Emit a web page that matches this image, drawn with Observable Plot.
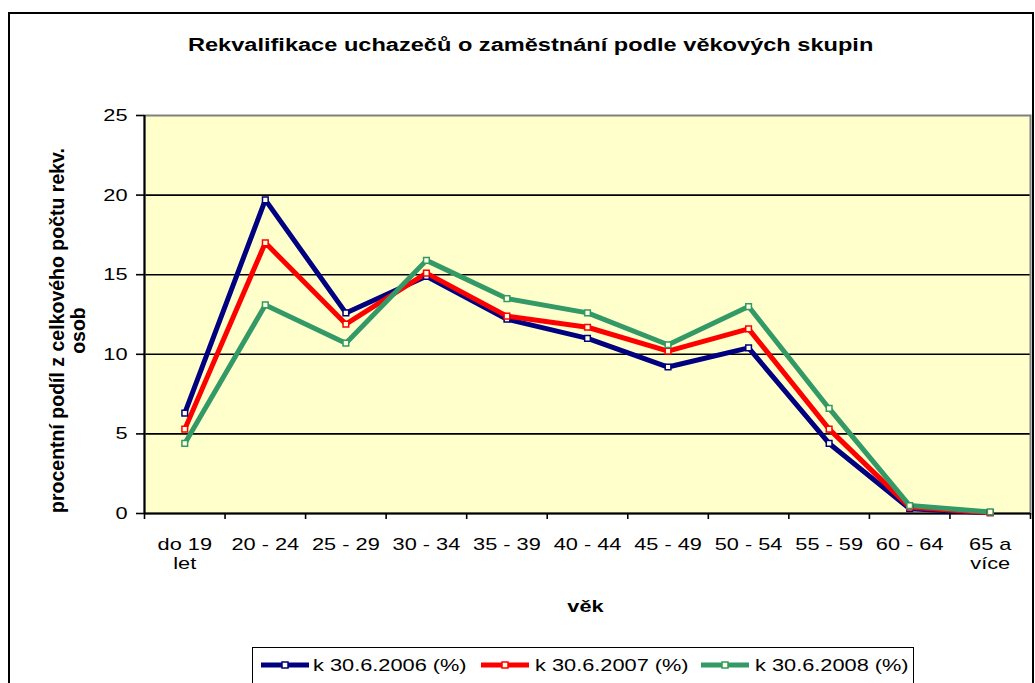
<!DOCTYPE html>
<html>
<head>
<meta charset="utf-8">
<script src="https://cdn.jsdelivr.net/npm/d3@7"></script>
<script src="https://cdn.jsdelivr.net/npm/@observablehq/plot@0.6"></script>
<style>
  html, body { margin: 0; padding: 0; background: #fff; }
  #root { position: relative; width: 1035px; height: 683px; overflow: hidden; background: #fff;
          font-family: "Liberation Sans", Arial, sans-serif; color: #000; }
  #frame { position: absolute; left: 8px; top: 12px; width: 1026px; height: 700px; border: 2px solid #000; box-sizing: border-box; }
  #title { position: absolute; left: 0; top: 35px; width: 1062px; text-align: center; font-weight: bold;
           font-size: 18px; line-height: 20px; white-space: nowrap; }
  #title span { display: inline-block; transform: scaleX(1.31); transform-origin: center; }
  #chart { position: absolute; left: 0; top: 0; }
  #legend { position: absolute; left: 252px; top: 647px; width: 662px; height: 50px; border: 1.5px solid #000;
            box-sizing: border-box; background: #fff; }
  .item { position: absolute; top: 5px; height: 24px; }
  .item svg { position: absolute; left: 0; top: 0; }
  .item .lbl { position: absolute; top: 3px; font-size: 17px; line-height: 20px; white-space: nowrap;
               transform: scaleX(1.28); transform-origin: left center; }
</style>
</head>
<body>
<div id="root">
  <div id="frame"></div>
  <div id="chart"></div>
  <div id="title"><span>Rekvalifikace uchazečů o zaměstnání podle věkových skupin</span></div>
  <div id="legend"></div>
</div>
<script>
// ---- data ----
const categories = ["do 19\nlet", "20 - 24", "25 - 29", "30 - 34", "35 - 39", "40 - 44",
                    "45 - 49", "50 - 54", "55 - 59", "60 - 64", "65 a\nvíce"];
const seriesNames = ["k 30.6.2006 (%)", "k 30.6.2007 (%)", "k 30.6.2008 (%)"];
const seriesColors = ["#000080", "#FF0000", "#339966"];
const v2006 = [6.3, 19.7, 12.6, 14.9, 12.2, 11.0, 9.2, 10.4, 4.4, 0.3, 0.05];
const v2007 = [5.3, 17.0, 11.9, 15.1, 12.4, 11.7, 10.2, 11.6, 5.3, 0.4, 0.05];
const v2008 = [4.4, 13.1, 10.7, 15.9, 13.5, 12.6, 10.6, 13.0, 6.6, 0.5, 0.1];
const yTicks = [0, 5, 10, 15, 20, 25];
const yLabel = "procentní podíl z celkového počtu rekv.\nosob";
const xLabel = "věk";

const allValues = [v2006, v2007, v2008];
const rows = [];
allValues.forEach((vals, s) => vals.forEach((v, i) => rows.push({series: seriesNames[s], idx: i + 0.5, value: v})));

const chart = Plot.plot({
  width: 1035,
  height: 640,
  marginLeft: 144,
  marginRight: 5,
  marginTop: 115,
  marginBottom: 127,
  style: { fontFamily: "'Liberation Sans', Arial, sans-serif", fontSize: "17px", background: "transparent", color: "#000", overflow: "visible" },
  x: { domain: [0, categories.length], axis: null },
  y: { domain: [0, 25], axis: null },
  color: { domain: seriesNames, range: seriesColors },
  marks: [
    Plot.frame({ fill: "#FFFFCC" }),
    Plot.ruleY([5, 10, 15, 20], { stroke: "#000", strokeWidth: 1.6 }),
    Plot.frame({ stroke: "#808080", strokeWidth: 2 }),
    Plot.ruleX([0], { stroke: "#000", strokeWidth: 2 }),
    Plot.ruleY([0], { stroke: "#000", strokeWidth: 2 }),
    Plot.axisY({ ticks: yTicks, tickSize: 8, tickPadding: 9, strokeWidth: 1.6, label: null, fontSize: 17 }),
    Plot.axisX({ ticks: d3.range(categories.length + 1), tickSize: 6, strokeWidth: 1.6, tickFormat: () => "", label: null }),
    Plot.axisX({ ticks: d3.range(categories.length).map(i => i + 0.5), tickSize: 0, tickPadding: 23,
                 tickFormat: d => categories[Math.floor(d)], label: null, fontSize: 17, lineHeight: 1.12 }),
    Plot.line(rows, { x: "idx", y: "value", z: "series", stroke: "series", strokeWidth: 5, strokeLinejoin: "miter" }),
    Plot.dot(rows, { x: "idx", y: "value", symbol: "square", r: 3.2, stroke: "series", fill: "#FFFFE0", strokeWidth: 1.5 }),
    Plot.text([yLabel], { frameAnchor: "left", dx: -77, dy: 16, rotate: -90, fontWeight: "bold", fontSize: 19.5,
                          lineHeight: 1.08, textAnchor: "middle", lineAnchor: "middle", className: "noscale" }),
    Plot.text([xLabel], { frameAnchor: "bottom", dy: 93, lineAnchor: "middle", fontWeight: "bold", fontSize: 17, dx: -2 })
  ]
});

// horizontal stretch of text glyphs to mimic the reference rendering
chart.querySelectorAll("text").forEach(t => {
  if (t.closest(".noscale")) return;
  const tr = t.getAttribute("transform");
  if (tr) {
    t.setAttribute("transform", tr + " scale(1.28,1)");
  } else {
    const x = +t.getAttribute("x") || 0, y = +t.getAttribute("y") || 0;
    t.removeAttribute("x"); t.removeAttribute("y");
    t.setAttribute("transform", `translate(${x},${y}) scale(1.28,1)`);
  }
});
document.getElementById("chart").appendChild(chart);

// ---- legend ----
const legendPos = [{sw: 8, lbl: 60}, {sw: 228, lbl: 282}, {sw: 448, lbl: 502}];
const legend = d3.select("#legend");
seriesNames.forEach((name, i) => {
  const item = legend.append("div").attr("class", "item").style("left", legendPos[i].sw + "px").style("width", "420px");
  const svg = item.append("svg").attr("width", 50).attr("height", 24);
  svg.append("line").attr("x1", 0).attr("x2", 48).attr("y1", 12).attr("y2", 12)
     .attr("stroke", seriesColors[i]).attr("stroke-width", 5);
  svg.append("rect").attr("x", 21).attr("y", 9).attr("width", 6).attr("height", 6)
     .attr("fill", "#FFFFE0").attr("stroke", seriesColors[i]).attr("stroke-width", 1.5);
  item.append("div").attr("class", "lbl").style("left", (legendPos[i].lbl - legendPos[i].sw) + "px").text(name);
});
</script>
</body>
</html>
